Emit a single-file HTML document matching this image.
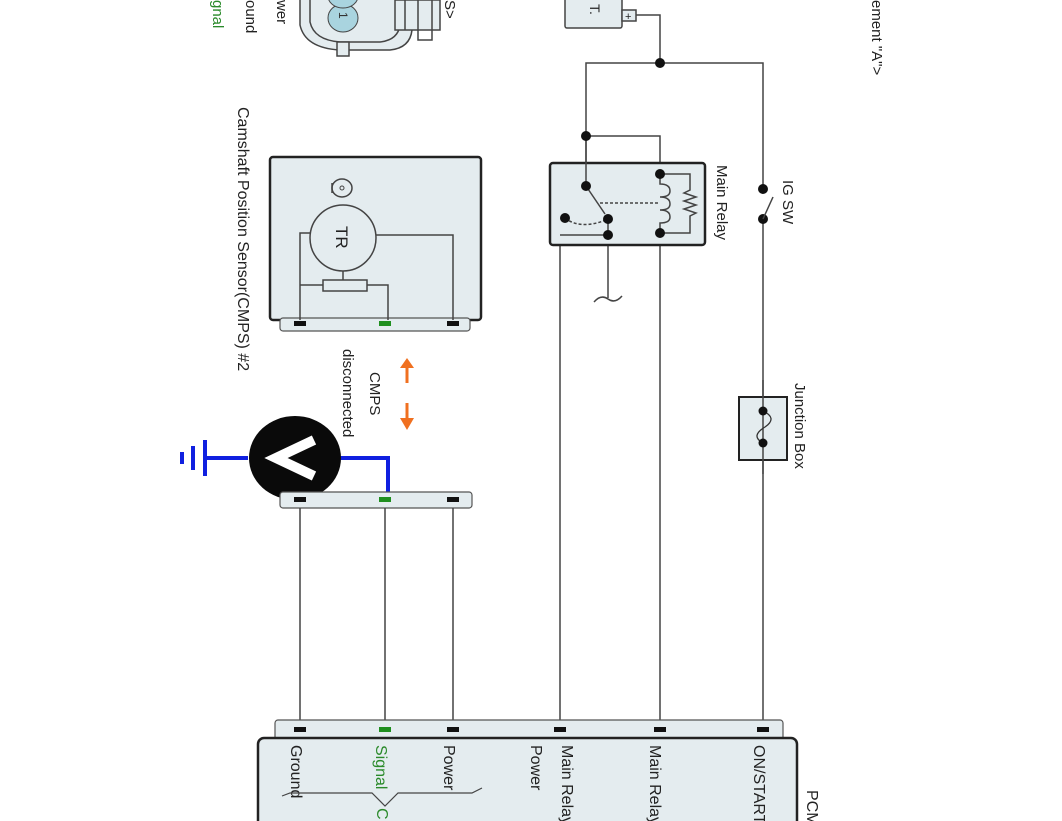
<!DOCTYPE html>
<html><head><meta charset="utf-8"><style>
html,body{margin:0;padding:0;background:#fff;}
svg{display:block;font-family:"Liberation Sans",sans-serif;}
</style></head><body>
<svg width="1062" height="821" viewBox="0 0 1062 821" xmlns="http://www.w3.org/2000/svg">
<g stroke="#444" stroke-width="1.5" fill="none">
<path d="M300,0 L300,25 Q305,48 340,50 L390,50 Q410,48 412,30 L412,0" fill="#e4ecef"/>
<path d="M310,0 L310,22 Q314,40 340,42 L380,42 Q398,40 400,25 L400,0" fill="#e4ecef"/>
<rect x="337" y="42" width="12" height="14" fill="#e4ecef"/>
<rect x="395" y="0" width="45" height="30" fill="#e4ecef"/>
<path d="M405,0 V30 M418,0 V40 L432,40 V0"/>
</g>
<ellipse cx="343" cy="18" rx="15" ry="14" fill="#a9d4df" stroke="#444"/>
<ellipse cx="343" cy="-4" rx="15" ry="12" fill="#a9d4df" stroke="#444"/>
<text transform="translate(339,12) rotate(90)" font-size="12" fill="#333">1</text>
<text transform="translate(277,0) rotate(90)" font-size="15" fill="#222">wer</text>
<text transform="translate(246,0) rotate(90)" font-size="15" fill="#222">ound</text>
<text transform="translate(213,0) rotate(90)" font-size="15" fill="#2a8a2a">gnal</text>
<text transform="translate(445,0) rotate(90)" font-size="15" fill="#222">S&gt;</text>
<text transform="translate(872,0) rotate(90)" font-size="15" fill="#222">ement "A"&gt;</text>

<g stroke="#444" stroke-width="1.5">
<rect x="565" y="-5" width="57" height="33" rx="2" fill="#e4ecef"/>
<rect x="622" y="10" width="14" height="11" fill="#e4ecef"/>
</g>
<text transform="translate(590,4) rotate(90)" font-size="14" fill="#222">T.</text>
<text x="625" y="20" font-size="11" fill="#222">+</text>

<g stroke="#444" stroke-width="1.5" fill="none">
<path d="M636,15 H660 V63"/>
<path d="M586,186 V63 H763 V189"/>
<path d="M586,136 H660 V174"/>
<path d="M763,219 V730"/>
<path d="M660,233 V730"/>
<path d="M608,235 H560 V730"/>
<path d="M608,235 V298"/>
<path d="M594,302 q7,-8 14,-3 q7,5 14,-3"/>
</g>
<rect x="550" y="163" width="155" height="82" rx="3" fill="#e4ecef" stroke="#222" stroke-width="2.5"/>
<g stroke="#444" stroke-width="1.5" fill="none">
<path d="M586,136 V186"/>
<path d="M586,186 L605,214"/>
<path d="M600,203 H660" stroke-dasharray="3,2"/>
<path d="M565,218 Q580,230 606,220" stroke-dasharray="3,2"/>
<path d="M560,235 H608 M608,218 V235"/>
<path d="M660,174 V184 q10,0 10,7 q0,6 -10,6 q10,0 10,7 q0,6 -10,6 q10,0 10,7 q0,6 -10,6 V233"/>
<path d="M660,174 H690 V190 l-6,3 l12,4 l-12,4 l12,4 l-12,4 l12,4 l-6,3 V233 H660"/>
</g>
<g fill="#111">
<circle cx="660" cy="63" r="5"/><circle cx="586" cy="136" r="5"/>
<circle cx="586" cy="186" r="5"/><circle cx="660" cy="174" r="5"/>
<circle cx="660" cy="233" r="5"/><circle cx="608" cy="219" r="5"/>
<circle cx="608" cy="235" r="5"/><circle cx="565" cy="218" r="5"/>
<circle cx="763" cy="189" r="5"/><circle cx="763" cy="219" r="5"/>
</g>
<path d="M763,219 L773,197" stroke="#444" stroke-width="1.5"/>
<text transform="translate(783,180) rotate(90)" font-size="15" fill="#222">IG SW</text>
<text transform="translate(717,165) rotate(90)" font-size="15" fill="#222">Main Relay</text>
<rect x="739" y="397" width="48" height="63" fill="#e4ecef" stroke="#222" stroke-width="2"/>
<path d="M763,380 V474" stroke="#444" stroke-width="1.5"/>
<path d="M763,411 Q778,418 765,427 Q750,436 763,443" stroke="#333" stroke-width="1.3" fill="none"/>
<circle cx="763" cy="411" r="4.5" fill="#111"/><circle cx="763" cy="443" r="4.5" fill="#111"/>
<text transform="translate(795,383) rotate(90)" font-size="15" fill="#222">Junction Box</text>

<rect x="270" y="157" width="211" height="163" rx="3" fill="#e4ecef" stroke="#222" stroke-width="2.5"/>
<rect x="280" y="318" width="190" height="13" rx="3" fill="#e4ecef" stroke="#555" stroke-width="1.2"/>
<rect x="294" y="321" width="12" height="5" fill="#111"/>
<rect x="379" y="321" width="12" height="5" fill="#1f8f1f"/>
<rect x="447" y="321" width="12" height="5" fill="#111"/>
<g stroke="#444" stroke-width="1.5" fill="none">
<circle cx="343" cy="238" r="33" fill="#e4ecef"/>
<path d="M310,233 H300 V320 M300,285 H323 M343,271 V280 M367,285 H388 V320 M376,235 H453 V320"/>
<rect x="323" y="280" width="44" height="11" fill="#e4ecef"/>
<ellipse cx="342" cy="188" rx="10" ry="9"/>
<path d="M332,183 V193"/>
</g>
<circle cx="342" cy="188" r="2" fill="none" stroke="#444"/>
<text transform="translate(336,226) rotate(90)" font-size="17" fill="#222">TR</text>
<text transform="translate(238,107) rotate(90)" font-size="16" fill="#222">Camshaft Position Sensor(CMPS) #2</text>

<g fill="#f07020" stroke="#f07020" stroke-width="3">
<path d="M407,383 V366"/><path d="M400,368 L407,358 L414,368 Z" stroke="none"/>
<path d="M407,403 V420"/><path d="M400,418 L407,430 L414,418 Z" stroke="none"/>
</g>
<text transform="translate(370,372) rotate(90)" font-size="15" fill="#222">CMPS</text>
<text transform="translate(343,349) rotate(90)" font-size="15" fill="#222">disconnected</text>

<path d="M340,458 H388 V500" stroke="#1020e0" stroke-width="4" fill="none"/>
<path d="M248,458 H205 M205,440 V476 M193,446 V470 M182,452 V464" stroke="#1020e0" stroke-width="4" fill="none"/>
<ellipse cx="295" cy="458" rx="46" ry="42" fill="#0a0a0a"/>
<path d="M314,440 L276,458 L314,476" stroke="#fff" stroke-width="10" fill="none" stroke-linejoin="miter"/>

<rect x="280" y="492" width="192" height="16" rx="3" fill="#e4ecef" stroke="#555" stroke-width="1.2"/>
<rect x="294" y="497" width="12" height="5" fill="#111"/>
<rect x="379" y="497" width="12" height="5" fill="#1f8f1f"/>
<rect x="447" y="497" width="12" height="5" fill="#111"/>
<path d="M300,508 V726 M385,508 V726 M453,508 V726" stroke="#444" stroke-width="1.5"/>

<rect x="275" y="720" width="508" height="20" rx="3" fill="#e4ecef" stroke="#555" stroke-width="1.2"/>
<g fill="#111">
<rect x="294" y="727" width="12" height="5"/><rect x="447" y="727" width="12" height="5"/>
<rect x="554" y="727" width="12" height="5"/><rect x="654" y="727" width="12" height="5"/>
<rect x="757" y="727" width="12" height="5"/>
</g>
<rect x="379" y="727" width="12" height="5" fill="#1f8f1f"/>
<rect x="258" y="738" width="539" height="100" rx="6" fill="#e4ecef" stroke="#222" stroke-width="2.5"/>
<text transform="translate(291,745) rotate(90)" font-size="16" fill="#222">Ground</text>
<text transform="translate(376,745) rotate(90)" font-size="16" fill="#2a8a2a">Signal</text>
<text transform="translate(444,745) rotate(90)" font-size="16" fill="#222">Power</text>
<text transform="translate(562,745) rotate(90)" font-size="16" fill="#222">Main Relay</text>
<text transform="translate(531,745) rotate(90)" font-size="16" fill="#222">Power</text>
<text transform="translate(650,745) rotate(90)" font-size="16" fill="#222">Main Relay</text>
<text transform="translate(754,745) rotate(90)" font-size="16" fill="#222">ON/START</text>
<text transform="translate(807,790) rotate(90)" font-size="16" fill="#222">PCM</text>
<path d="M282,796 L290,793 H372 L385,806 L398,793 H472 L482,788" stroke="#444" stroke-width="1.2" fill="none"/>
<text transform="translate(377,808) rotate(90)" font-size="16" fill="#2a8a2a">C</text>
</svg>
</body></html>
